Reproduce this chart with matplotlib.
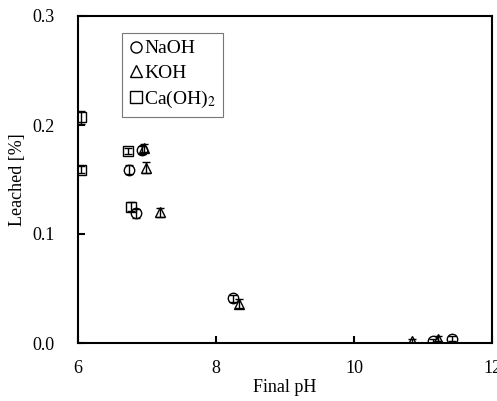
import matplotlib
matplotlib.use("Agg")
import matplotlib.pyplot as plt
from matplotlib.lines import Line2D

plt.rcParams['font.family'] = ['Liberation Serif', 'DejaVu Serif']
plt.rcParams['mathtext.fontset'] = 'stix'

naoh_x = [6.74, 6.93, 6.84, 8.25, 11.14, 11.42]
naoh_y = [0.159, 0.177, 0.119, 0.041, 0.002, 0.004]
naoh_e = [0.004, 0.004, 0.004, 0.003, 0.002, 0.002]

koh_x = [6.98, 6.95, 7.19, 8.33, 10.84, 11.22]
koh_y = [0.161, 0.179, 0.120, 0.036, 0.002, 0.004]
koh_e = [0.005, 0.004, 0.004, 0.004, 0.002, 0.002]

caoh_x = [6.04, 6.05, 6.72, 6.77]
caoh_y = [0.207, 0.159, 0.176, 0.125]
caoh_e = [0.006, 0.003, 0.003, 0.004]

labels = ['NaOH', 'KOH', 'Ca(OH)$_2$']
markers = ['o', '^', 's']

fig = plt.figure(figsize=(4.97, 4.01), dpi=100)
ax = fig.add_axes([78/497, 1-343/401, (492-78)/497, (343-16)/401])

common = dict(ls='none', color='black', mfc='none', mec='black', ms=7.5, mew=1.0,
              ecolor='black', elinewidth=1.0, capsize=3, capthick=1.0)
for xs, ys, es, m in zip([naoh_x, koh_x, caoh_x], [naoh_y, koh_y, caoh_y],
                         [naoh_e, koh_e, caoh_e], markers):
    ax.errorbar(xs, ys, yerr=es, marker=m, **common)

ax.set_xlim(6, 12)
ax.set_ylim(0, 0.3)
ax.set_xticks([6, 8, 10, 12])
ax.set_yticks([0.0, 0.1, 0.2, 0.3])
ax.set_yticklabels(['0.0', '0.1', '0.2', '0.3'])
ax.tick_params(direction='in', length=5, width=1.5, labelsize=13)
ax.tick_params(axis='y', pad=17)
ax.tick_params(axis='x', pad=12)
for s in ax.spines.values():
    s.set_linewidth(1.5)
ax.set_xlabel('Final pH', fontsize=13, labelpad=2)
ax.set_ylabel('Leached [%]', fontsize=13, labelpad=4)

handles = [Line2D([], [], ls='none', marker=m, mfc='none', mec='black', ms=8, mew=1.0)
           for m in markers]
leg = ax.legend(handles, labels, loc='upper left',
                bbox_to_anchor=((122-78)/414, (343-33)/327),
                fontsize=14, frameon=True, fancybox=False, edgecolor='#555555',
                handlelength=0.7, handletextpad=0.1, borderpad=0.35, labelspacing=0.35,
                borderaxespad=0)
leg.get_frame().set_linewidth(0.8)

fig.savefig('out.png', dpi=100)
